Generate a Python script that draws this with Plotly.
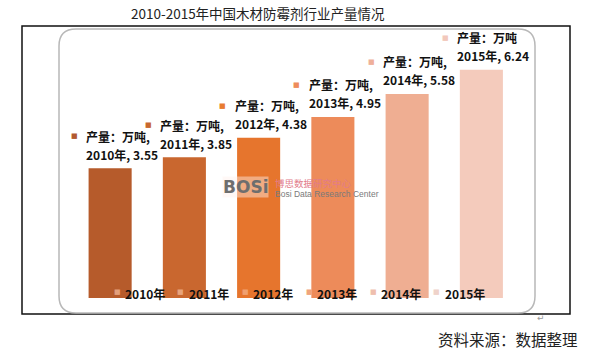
import plotly.graph_objects as go

# ---- data ----
years = ["2010年", "2011年", "2012年", "2013年", "2014年", "2015年"]
values = [3.55, 3.85, 4.38, 4.95, 5.58, 6.24]
series_name = "产量：万吨"
title_text = "2010-2015年中国木材防霉剂行业产量情况"
source_text = "资料来源：数据整理"

bar_colors = ["#b65b2b", "#c9672f", "#e6752d", "#ed8b5a", "#efae92", "#f4cbbc"]
key_colors = ["#b25a30", "#c8682f", "#e87c30", "#ee8c5c", "#efb09a", "#f2c8bb"]
legend_key_colors = ["#e4a07c", "#e8a47c", "#f0a070", "#f0a47c", "#efbfae", "#efd3ca"]

W, H = 593, 352
def px(x):
    return x / W
def py(y):
    return 1 - y / H

fig = go.Figure()
for i, (yr, v) in enumerate(zip(years, values)):
    fig.add_trace(go.Bar(x=[yr], y=[v], name=yr, marker=dict(color=bar_colors[i], line=dict(width=0)),
                         showlegend=False, hoverinfo="skip"))

ann = []
font_b = "Noto Sans CJK SC"
for i, (yr, v) in enumerate(zip(years, values)):
    # line 2: "2010年, 3.55"
    ann.append(dict(x=yr, y=v, xref="x", yref="y", text=f"<b>{yr}, {v:.2f}</b>", showarrow=False,
                    xanchor="left", yanchor="middle", xshift=-25, yshift=14, borderpad=0,
                    font=dict(family=font_b, size=12, color="#111")))
    ann.append(dict(x=yr, y=v, xref="x", yref="y", text=f"<b>{series_name},</b>" if i < 5 else f"<b>{series_name}</b>",
                    showarrow=False, xanchor="left", yanchor="middle", xshift=-25, yshift=32, borderpad=0,
                    font=dict(family=font_b, size=12, color="#111")))
    ann.append(dict(x=yr, y=v, xref="x", yref="y", text="■", showarrow=False,
                    xanchor="center", yanchor="middle", xshift=-36, yshift=32, borderpad=0,
                    font=dict(family="DejaVu Sans", size=7, color=key_colors[i])))
    # bottom legend-like labels
    lx = 117 + 64 * i
    ann.append(dict(x=px(lx), y=py(292), xref="paper", yref="paper", text="■", showarrow=False,
                    xanchor="center", yanchor="middle", borderpad=0,
                    font=dict(family="DejaVu Sans", size=7, color=legend_key_colors[i])))
    ann.append(dict(x=px(lx + 7), y=py(293), xref="paper", yref="paper", text=f"<b>{yr}</b>", showarrow=False,
                    xanchor="left", yanchor="middle", borderpad=0,
                    font=dict(family=font_b, size=12, color="#111")))

# title and source
ann.append(dict(x=px(258), y=py(13), xref="paper", yref="paper", text=title_text, showarrow=False,
                xanchor="center", yanchor="middle", font=dict(family=font_b, size=13.5, color="#222")))
ann.append(dict(x=px(580), y=py(339), xref="paper", yref="paper", text=source_text, showarrow=False,
                xanchor="right", yanchor="middle", font=dict(family=font_b, size=15.5, color="#222")))
# watermark
ann.append(dict(x=px(222), y=py(187), xref="paper", yref="paper", text="<b>BOSi</b>", showarrow=False,
                xanchor="left", yanchor="middle", borderpad=0, bgcolor="rgba(255,240,235,0.45)",
                font=dict(family="DejaVu Sans", size=17, color="#6e6e6e")))
ann.append(dict(x=px(274), y=py(183), xref="paper", yref="paper", text="博思数据研究中心", showarrow=False,
                xanchor="left", yanchor="middle", borderpad=0,
                font=dict(family=font_b, size=9.5, color="#e27c8a")))
ann.append(dict(x=px(274), y=py(194), xref="paper", yref="paper", text="Bosi Data Research Center", showarrow=False,
                xanchor="left", yanchor="middle", borderpad=0,
                font=dict(family="Liberation Sans Narrow, Liberation Sans", size=8.5, color="#7a7a7a")))
ann.append(dict(x=px(541), y=py(318), xref="paper", yref="paper", text="↵", showarrow=False,
                xanchor="center", yanchor="middle", font=dict(family="DejaVu Sans", size=9, color="#999")))

# rounded inner box
x0, x1, y0, y1, r = px(59), px(535), py(313), py(29), 17
rx, ry = r / W, r / H
path = (f"M {x0+rx},{y1} L {x1-rx},{y1} Q {x1},{y1} {x1},{y1-ry} L {x1},{y0+ry} Q {x1},{y0} {x1-rx},{y0} "
        f"L {x0+rx},{y0} Q {x0},{y0} {x0},{y0+ry} L {x0},{y1-ry} Q {x0},{y1} {x0+rx},{y1} Z")
shapes = [
    dict(type="rect", xref="paper", yref="paper", x0=px(22), x1=px(570), y0=py(314), y1=py(26),
         line=dict(color="#111", width=1.5), layer="below"),
    dict(type="path", xref="paper", yref="paper", path=path, line=dict(color="#b8b8b8", width=1.5), layer="below"),
]

fig.update_layout(
    width=W, height=H, margin=dict(l=0, r=0, t=0, b=0),
    paper_bgcolor="white", plot_bgcolor="rgba(0,0,0,0)",
    bargap=0.42, showlegend=False,
    xaxis=dict(domain=[73 / W, 518.5 / W], range=[-0.5, 5.5], showticklabels=False, showgrid=False,
               zeroline=False, showline=False, fixedrange=True),
    yaxis=dict(domain=[54 / H, 310 / H], range=[0, 7], showticklabels=False, showgrid=False,
               zeroline=False, showline=False, fixedrange=True),
    annotations=ann, shapes=shapes,
)
fig.write_html("out.html")
